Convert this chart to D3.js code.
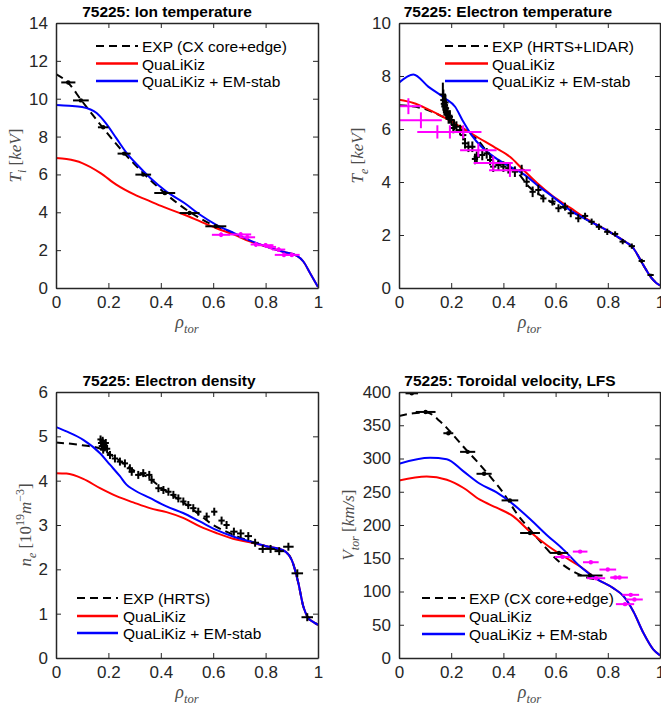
<!DOCTYPE html>
<html><head><meta charset="utf-8">
<script src="https://cdn.jsdelivr.net/npm/d3@7"></script>
<style>body{margin:0;background:#fff}svg{display:block}</style>
</head><body>
<svg id="chart" width="661" height="708"></svg>
<script>
// ---------------- DATA ----------------
const xTicks = [0, 0.2, 0.4, 0.6, 0.8, 1];
const xTickLabels = ['0', '0.2', '0.4', '0.6', '0.8', '1'];

// Ion temperature
const tiTicks = [0, 2, 4, 6, 8, 10, 12, 14];
const tiCxRho = [0.047, 0.095, 0.18, 0.26, 0.333, 0.415, 0.51, 0.61];
const tiCxVal = [10.86, 9.91, 8.49, 7.1, 5.99, 5.02, 3.96, 3.26];
const tiCxErr = [0.027, 0.03, 0.02, 0.025, 0.03, 0.04, 0.038, 0.04];
const tiEdgeRho = [0.63, 0.705, 0.73, 0.763, 0.8, 0.82, 0.85, 0.87, 0.9];
const tiEdgeVal = [2.81, 2.83, 2.68, 2.3, 2.26, 2.17, 2.03, 1.75, 1.75];
const tiEdgeErr = [0.035, 0.04, 0.03, 0.02, 0.03, 0.02, 0.025, 0.035, 0.03];
const tiFitRho = [0, 0.047, 0.095, 0.18, 0.26, 0.333, 0.415, 0.51, 0.61, 0.68];
const tiFitVal = [11.3, 10.83, 9.95, 8.45, 7.13, 6.07, 5.02, 4.02, 3.26, 2.88];
const tiQlkRho = [0, 0.04, 0.1, 0.17, 0.23, 0.3, 0.36, 0.42, 0.49, 0.55, 0.61, 0.68, 0.74, 0.8, 0.87, 0.92, 0.944, 0.97, 1];
const tiQlkVal = [6.87, 6.81, 6.6, 6.07, 5.46, 4.93, 4.58, 4.23, 3.87, 3.52, 3.17, 2.82, 2.46, 2.2, 1.9, 1.7, 1.4, 0.78, 0.05];
const tiEmRho = [0, 0.05, 0.1, 0.155, 0.19, 0.23, 0.27, 0.31, 0.36, 0.42, 0.49, 0.55, 0.61, 0.68, 0.74, 0.8, 0.87, 0.92, 0.944, 0.97, 1];
const tiEmVal = [9.67, 9.63, 9.56, 9.24, 8.71, 7.92, 7.13, 6.51, 5.81, 5.11, 4.49, 3.87, 3.35, 2.9, 2.52, 2.2, 1.9, 1.7, 1.4, 0.78, 0.05];

// Electron temperature
const teTicks = [0, 2, 4, 6, 8, 10];
const teHrtsRho = [0.168, 0.17, 0.172, 0.174, 0.176, 0.178, 0.18, 0.182, 0.186, 0.19, 0.195, 0.201, 0.208, 0.211, 0.22, 0.234, 0.246, 0.253, 0.266, 0.281, 0.291, 0.298, 0.319, 0.336, 0.349, 0.361, 0.381, 0.4, 0.419, 0.444, 0.47, 0.489, 0.512, 0.534, 0.553, 0.588, 0.611, 0.636, 0.658, 0.687, 0.713, 0.738, 0.766, 0.798, 0.828, 0.857, 0.892, 0.93, 0.964];
const teHrtsVal = [7.3, 7.09, 6.95, 6.85, 6.9, 7.0, 6.78, 6.65, 6.59, 6.45, 6.46, 6.34, 6.04, 6.15, 6.09, 5.96, 5.77, 5.46, 5.33, 5.33, 4.87, 4.95, 5.02, 5.08, 4.83, 4.58, 4.64, 4.58, 4.52, 4.39, 4.45, 4.01, 3.63, 3.7, 3.38, 3.26, 3.01, 3.07, 2.82, 2.63, 2.72, 2.5, 2.31, 2.12, 2.04, 1.75, 1.58, 1.02, 0.49];
const teHrtsErr = [0.45, 0.4, 0.35, 0.35, 0.35, 0.3, 0.3, 0.3, 0.25, 0.25, 0.25, 0.2, 0.2, 0.2, 0.2, 0.2, 0.2, 0.2, 0.2, 0.2, 0.2, 0.2, 0.2, 0.2, 0.2, 0.2, 0.2, 0.2, 0.2, 0.2, 0.2, 0.2, 0.2, 0.2, 0.15, 0.15, 0.15, 0.15, 0.15, 0.15, 0.12, 0.12, 0.12, 0.12, 0.1, 0.1, 0.1, 0.08, 0.05];
const teLidRho = [0.036, 0.084, 0.147, 0.195, 0.246, 0.304, 0.361, 0.425];
const teLidVal = [6.86, 6.33, 5.89, 5.89, 5.89, 5.2, 4.72, 4.44];
const teLidXerr = [0.05, 0.08, 0.077, 0.07, 0.07, 0.07, 0.075, 0.08];
const teLidYerr = [0.3, 0.3, 0.25, 0.25, 0.25, 0.25, 0.25, 0.25];
const teFitRho = [0, 0.1, 0.17, 0.25, 0.3, 0.35, 0.4, 0.45, 0.5, 0.55, 0.6, 0.65, 0.7, 0.75, 0.8, 0.85, 0.898, 0.936, 0.968, 1];
const teFitVal = [6.9, 6.75, 6.45, 6.0, 5.6, 5.0, 4.65, 4.4, 3.8, 3.45, 3.15, 2.95, 2.68, 2.42, 2.15, 1.85, 1.5, 0.87, 0.37, 0.1];
const teQlkRho = [0, 0.055, 0.112, 0.176, 0.24, 0.304, 0.368, 0.425, 0.47, 0.53, 0.59, 0.655, 0.72, 0.783, 0.847, 0.898, 0.936, 0.968, 0.987, 1];
const teQlkVal = [7.1, 6.98, 6.74, 6.42, 6.05, 5.67, 5.3, 4.95, 4.52, 3.95, 3.46, 3.03, 2.6, 2.25, 1.87, 1.5, 0.87, 0.37, 0.18, 0.1];
const teEmRho = [0, 0.055, 0.112, 0.176, 0.215, 0.246, 0.278, 0.316, 0.368, 0.425, 0.483, 0.53, 0.59, 0.655, 0.72, 0.783, 0.847, 0.898, 0.936, 0.968, 0.987, 1];
const teEmVal = [7.75, 8.06, 7.6, 7.16, 6.84, 6.28, 5.77, 5.33, 4.92, 4.58, 4.26, 3.88, 3.44, 2.94, 2.57, 2.25, 1.87, 1.5, 0.87, 0.37, 0.18, 0.1];

// Electron density
const neTicks = [0, 1, 2, 3, 4, 5, 6];
const neHrtsRho = [0.17, 0.172, 0.175, 0.178, 0.18, 0.183, 0.186, 0.19, 0.195, 0.206, 0.225, 0.244, 0.263, 0.282, 0.289, 0.314, 0.333, 0.356, 0.365, 0.391, 0.41, 0.429, 0.448, 0.467, 0.486, 0.505, 0.524, 0.543, 0.575, 0.604, 0.632, 0.651, 0.679, 0.705, 0.734, 0.76, 0.789, 0.819, 0.852, 0.887, 0.921, 0.959];
const neHrtsVal = [4.93, 4.85, 4.78, 4.9, 4.7, 4.82, 4.75, 4.85, 4.72, 4.58, 4.5, 4.43, 4.39, 4.28, 4.2, 4.13, 4.17, 4.13, 4.02, 3.83, 3.79, 3.75, 3.68, 3.6, 3.53, 3.45, 3.38, 3.3, 3.19, 3.3, 3.1, 3.0, 2.85, 2.81, 2.75, 2.6, 2.46, 2.46, 2.41, 2.51, 1.91, 0.92];
const neHrtsXerr = [0.012, 0.012, 0.012, 0.012, 0.012, 0.012, 0.012, 0.012, 0.012, 0.012, 0.012, 0.012, 0.012, 0.012, 0.012, 0.012, 0.012, 0.012, 0.012, 0.012, 0.012, 0.012, 0.012, 0.012, 0.012, 0.012, 0.012, 0.012, 0.012, 0.012, 0.012, 0.012, 0.014, 0.014, 0.014, 0.015, 0.016, 0.016, 0.018, 0.02, 0.022, 0.022];
const neFitRho = [0, 0.1, 0.17, 0.2, 0.25, 0.3, 0.35, 0.4, 0.45, 0.5, 0.55, 0.6, 0.65, 0.7, 0.75, 0.8, 0.85, 0.885, 0.9, 0.925, 0.944, 0.963, 0.98, 1];
const neFitVal = [4.86, 4.8, 4.72, 4.62, 4.42, 4.22, 4.08, 3.85, 3.65, 3.45, 3.22, 3.0, 2.85, 2.72, 2.62, 2.52, 2.43, 2.35, 2.21, 1.69, 1.16, 0.9, 0.82, 0.75];
const neQlkRho = [0, 0.04, 0.104, 0.168, 0.231, 0.295, 0.358, 0.422, 0.485, 0.549, 0.612, 0.676, 0.74, 0.803, 0.867, 0.885, 0.9, 0.925, 0.944, 0.963, 0.98, 1];
const neQlkVal = [4.17, 4.16, 4.04, 3.83, 3.65, 3.51, 3.38, 3.29, 3.16, 2.97, 2.82, 2.69, 2.61, 2.52, 2.43, 2.35, 2.21, 1.69, 1.16, 0.9, 0.82, 0.75];
const neEmRho = [0, 0.04, 0.104, 0.168, 0.206, 0.244, 0.269, 0.295, 0.358, 0.422, 0.485, 0.549, 0.612, 0.676, 0.74, 0.803, 0.867, 0.885, 0.9, 0.925, 0.944, 0.963, 0.98, 1];
const neEmVal = [5.21, 5.11, 4.92, 4.62, 4.36, 4.1, 3.91, 3.8, 3.61, 3.42, 3.27, 3.08, 2.89, 2.74, 2.63, 2.52, 2.43, 2.35, 2.21, 1.69, 1.16, 0.9, 0.82, 0.75];

// Toroidal velocity
const vTicks = [0, 50, 100, 150, 200, 250, 300, 350, 400];
const vCxRho = [0.049, 0.102, 0.189, 0.263, 0.326, 0.425, 0.502, 0.613, 0.732];
const vCxVal = [398, 370, 338, 310, 277, 237, 188, 158, 124];
const vCxErr = [0.024, 0.038, 0.019, 0.029, 0.029, 0.032, 0.038, 0.035, 0.048];
const vEdgeRho = [0.627, 0.694, 0.735, 0.8, 0.755, 0.829, 0.845, 0.888, 0.902, 0.866];
const vEdgeVal = [152, 160, 144, 133, 120, 121, 121, 95, 88, 81];
const vEdgeErr = [0.03, 0.028, 0.03, 0.032, 0.035, 0.02, 0.032, 0.032, 0.032, 0.035];
const vFitRho = [0, 0.055, 0.106, 0.157, 0.195, 0.246, 0.298, 0.349, 0.4, 0.45, 0.502, 0.553, 0.604, 0.655, 0.706, 0.757];
const vFitVal = [364, 368, 369, 356, 341, 318, 296, 273, 248, 218, 193, 170, 148, 133, 123, 118];
const vQlkRho = [0, 0.106, 0.183, 0.246, 0.31, 0.374, 0.438, 0.502, 0.566, 0.63, 0.693, 0.757, 0.821, 0.86, 0.898, 0.936, 0.974, 1];
const vQlkVal = [267, 273, 268, 256, 238, 226, 213, 190, 170, 153, 138, 119, 105, 93, 70, 38, 13, 4];
const vEmRho = [0, 0.119, 0.183, 0.246, 0.31, 0.374, 0.438, 0.502, 0.566, 0.63, 0.693, 0.757, 0.821, 0.86, 0.898, 0.936, 0.974, 1];
const vEmVal = [292, 301, 299, 281, 262, 249, 231, 209, 185, 163, 138, 119, 105, 93, 70, 38, 13, 4];

// ---------------- DRAW ----------------
const SANS = "'Liberation Sans', Arial, Helvetica, sans-serif";
const SERIF = "'Liberation Serif', 'Times New Roman', serif";
const AXC = '#262626';
const svg = d3.select('#chart');
const zip = (a, b) => a.map((v, i) => [v, b[i]]);

function mathLabel(sel, parts, size) {
  let shift = 0;
  parts.forEach(p => {
    const target = p.sub ? size * 0.28 : p.sup ? -size * 0.42 : 0;
    sel.append('tspan')
      .attr('dy', target - shift)
      .attr('font-size', (p.sub || p.sup) ? size * 0.7 : size)
      .attr('font-style', p.it ? 'italic' : 'normal')
      .text(p.t);
    shift = target;
  });
}

function drawPanel(p) {
  const [L, T, R, B] = p.box;
  const x = d3.scaleLinear().domain([0, 1]).range([L, R]);
  const y = d3.scaleLinear().domain([0, p.yMax]).range([B, T]);
  const g = svg.append('g');
  const line = d3.line().x(d => x(d[0])).y(d => y(d[1])).curve(d3.curveMonotoneX);

  const clip = 'clip' + p.id;
  g.append('clipPath').attr('id', clip).append('rect').attr('x', L).attr('y', T).attr('width', R - L).attr('height', B - T);
  const plot = g.append('g').attr('clip-path', `url(#${clip})`);

  plot.append('path').attr('d', line(zip(p.fit[0], p.fit[1]))).attr('fill', 'none')
    .attr('stroke', '#000').attr('stroke-width', 2).attr('stroke-dasharray', '8,5');
  plot.append('path').attr('d', line(zip(p.qlk[0], p.qlk[1]))).attr('fill', 'none')
    .attr('stroke', '#ff0000').attr('stroke-width', 2);
  plot.append('path').attr('d', line(zip(p.em[0], p.em[1]))).attr('fill', 'none')
    .attr('stroke', '#0000ff').attr('stroke-width', 2);

  function pts(set) {
    const gg = plot.append('g').attr('stroke', set.color).attr('stroke-width', 2);
    set.rho.forEach((r, i) => {
      const v = set.val[i];
      const xe = Array.isArray(set.xerr) ? set.xerr[i] : set.xerr;
      const ye = Array.isArray(set.yerr) ? set.yerr[i] : set.yerr;
      if (xe) gg.append('line').attr('x1', x(r - xe)).attr('x2', x(r + xe)).attr('y1', y(v)).attr('y2', y(v));
      if (ye) gg.append('line').attr('x1', x(r)).attr('x2', x(r)).attr('y1', y(v - ye)).attr('y2', y(v + ye));
      if (set.dot) gg.append('circle').attr('cx', x(r)).attr('cy', y(v)).attr('r', 2.2).attr('fill', set.color).attr('stroke', 'none');
    });
  }
  p.points.forEach(pts);

  // axes (box with inward ticks)
  const styleAx = (a) => {
    a.attr('font-family', SANS).attr('font-size', 17);
    a.select('.domain').attr('stroke', AXC).attr('stroke-width', 1.5);
    a.selectAll('.tick line').attr('stroke', AXC).attr('stroke-width', 1);
    a.selectAll('.tick text').attr('fill', AXC);
  };
  g.append('g').attr('transform', `translate(0,${B})`)
    .call(d3.axisBottom(x).tickValues(xTicks).tickFormat((d, i) => xTickLabels[i]).tickSizeInner(-5).tickSizeOuter(0).tickPadding(8))
    .call(styleAx);
  g.append('g').attr('transform', `translate(0,${T})`)
    .call(d3.axisTop(x).tickValues(xTicks).tickFormat('').tickSizeInner(-5).tickSizeOuter(0))
    .call(styleAx);
  g.append('g').attr('transform', `translate(${L},0)`)
    .call(d3.axisLeft(y).tickValues(p.yTicks).tickFormat(d3.format('d')).tickSizeInner(-5).tickSizeOuter(0).tickPadding(8))
    .call(styleAx);
  g.append('g').attr('transform', `translate(${R},0)`)
    .call(d3.axisRight(y).tickValues(p.yTicks).tickFormat('').tickSizeInner(-5).tickSizeOuter(0))
    .call(styleAx);

  // title
  g.append('text').attr('x', p.titleX).attr('y', T - 6).attr('text-anchor', 'middle')
    .attr('font-family', SANS).attr('font-weight', 'bold').attr('font-size', 15.5).attr('fill', '#000').text(p.title);

  // y label
  const yl = g.append('text').attr('transform', `translate(${p.ylabX + 6},${(T + B) / 2}) rotate(-90)`)
    .attr('text-anchor', 'middle').attr('font-family', SERIF).attr('fill', '#4d4d4d');
  mathLabel(yl, p.ylab, 17);
  // x label
  const xl = g.append('text').attr('x', (L + R) / 2).attr('y', B + 40).attr('text-anchor', 'middle')
    .attr('font-family', SERIF).attr('fill', '#4d4d4d');
  mathLabel(xl, [{t: 'ρ', it: true}, {t: 'tor', it: true, sub: true}], 18);

  // legend
  const lg = g.append('g').attr('font-family', SANS).attr('font-size', 15.5);
  const styles = [
    {c: '#000', dash: '8,5', w: 2},
    {c: '#ff0000', dash: null, w: 2.5},
    {c: '#0000ff', dash: null, w: 2.5}
  ];
  p.legend.labels.forEach((lab, i) => {
    const ly = p.legend.ys[i];
    lg.append('line').attr('x1', p.legend.x0).attr('x2', p.legend.x1).attr('y1', ly).attr('y2', ly)
      .attr('stroke', styles[i].c).attr('stroke-width', styles[i].w).attr('stroke-dasharray', styles[i].dash);
    lg.append('text').attr('x', p.legend.tx).attr('y', ly + 6).attr('fill', '#000').text(lab);
  });
}

drawPanel({
  id: 1, box: [56, 23, 318, 288], yMax: 14, yTicks: tiTicks, title: '75225: Ion temperature', titleX: 167,
  ylabX: 15, ylab: [{t: 'T', it: true}, {t: 'i', it: true, sub: true}, {t: ' [', it: false}, {t: 'keV', it: true}, {t: ']', it: false}],
  fit: [tiFitRho, tiFitVal], qlk: [tiQlkRho, tiQlkVal], em: [tiEmRho, tiEmVal],
  points: [
    {rho: tiCxRho, val: tiCxVal, xerr: tiCxErr, yerr: 0, color: '#000', dot: true},
    {rho: tiEdgeRho, val: tiEdgeVal, xerr: tiEdgeErr, yerr: 0.12, color: '#ff00ff', dot: true}
  ],
  legend: {x0: 96, x1: 138, tx: 142, ys: [46, 63.5, 81], labels: ['EXP (CX core+edge)', 'QuaLiKiz', 'QuaLiKiz + EM-stab']}
});

drawPanel({
  id: 2, box: [399, 23, 660, 288], yMax: 10, yTicks: teTicks, title: '75225: Electron temperature', titleX: 508,
  ylabX: 357, ylab: [{t: 'T', it: true}, {t: 'e', it: true, sub: true}, {t: ' [', it: false}, {t: 'keV', it: true}, {t: ']', it: false}],
  fit: [teFitRho, teFitVal], qlk: [teQlkRho, teQlkVal], em: [teEmRho, teEmVal],
  points: [
    {rho: teHrtsRho, val: teHrtsVal, xerr: 0.012, yerr: teHrtsErr, color: '#000', dot: false},
    {rho: teLidRho, val: teLidVal, xerr: teLidXerr, yerr: teLidYerr, color: '#ff00ff', dot: false}
  ],
  legend: {x0: 445, x1: 488, tx: 492, ys: [46, 63.5, 81], labels: ['EXP (HRTS+LIDAR)', 'QuaLiKiz', 'QuaLiKiz + EM-stab']}
});

drawPanel({
  id: 3, box: [56, 392, 318, 658], yMax: 6, yTicks: neTicks, title: '75225: Electron density', titleX: 169,
  ylabX: 25, ylab: [{t: 'n', it: true}, {t: 'e', it: true, sub: true}, {t: ' [10', it: false}, {t: '19', it: false, sup: true}, {t: 'm', it: true}, {t: '−3', it: false, sup: true}, {t: ']', it: false}],
  fit: [neFitRho, neFitVal], qlk: [neQlkRho, neQlkVal], em: [neEmRho, neEmVal],
  points: [
    {rho: neHrtsRho, val: neHrtsVal, xerr: neHrtsXerr, yerr: 0.09, color: '#000', dot: false}
  ],
  legend: {x0: 77, x1: 118, tx: 123, ys: [598, 616, 633], labels: ['EXP (HRTS)', 'QuaLiKiz', 'QuaLiKiz + EM-stab']}
});

drawPanel({
  id: 4, box: [399, 392, 660, 658], yMax: 400, yTicks: vTicks, title: '75225: Toroidal velocity, LFS', titleX: 510,
  ylabX: 348, ylab: [{t: 'V', it: true}, {t: 'tor', it: true, sub: true}, {t: ' [', it: false}, {t: 'km/s', it: true}, {t: ']', it: false}],
  fit: [vFitRho, vFitVal], qlk: [vQlkRho, vQlkVal], em: [vEmRho, vEmVal],
  points: [
    {rho: vCxRho, val: vCxVal, xerr: vCxErr, yerr: 0, color: '#000', dot: true},
    {rho: vEdgeRho, val: vEdgeVal, xerr: vEdgeErr, yerr: 2, color: '#ff00ff', dot: true}
  ],
  legend: {x0: 422, x1: 465, tx: 469, ys: [598, 616, 634], labels: ['EXP (CX core+edge)', 'QuaLiKiz', 'QuaLiKiz + EM-stab']}
});
</script>
</body></html>
